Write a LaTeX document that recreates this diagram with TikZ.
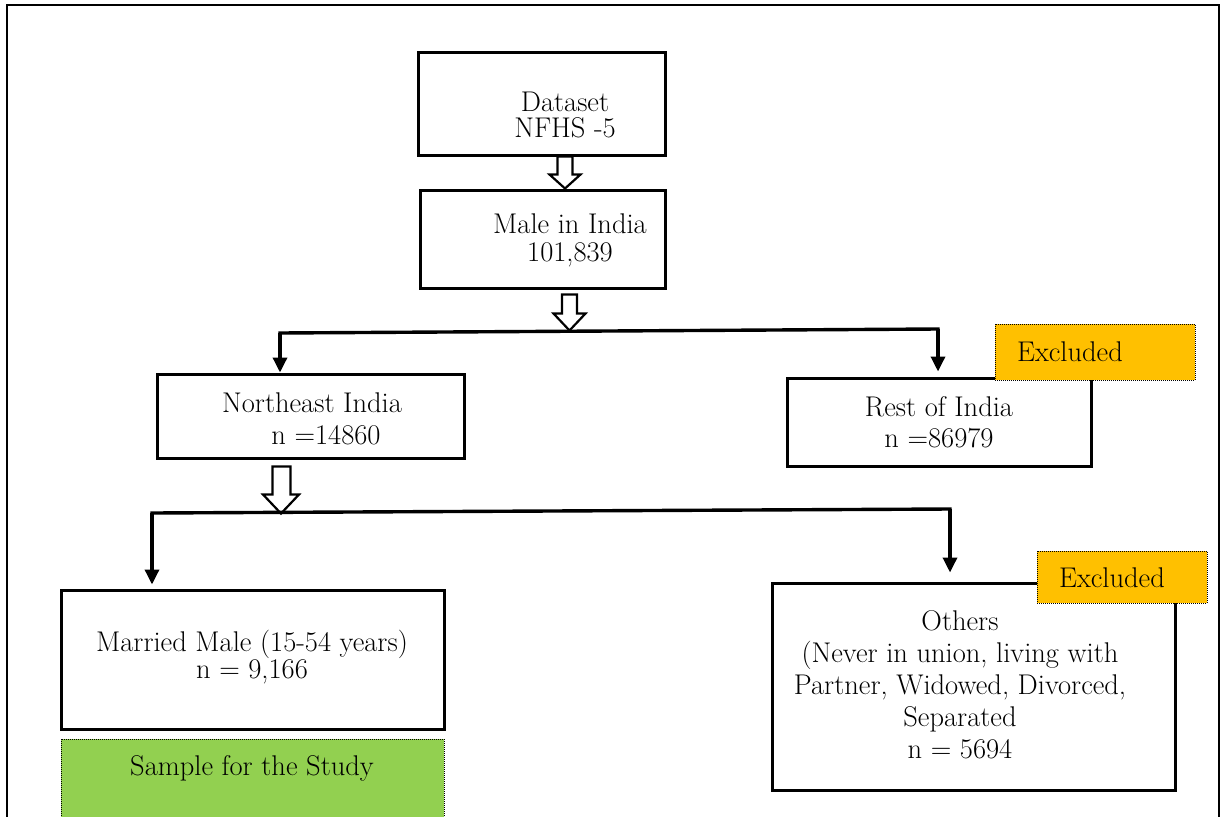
\documentclass[tikz,border=0pt]{standalone}
\usetikzlibrary{arrows.meta,calc}
\definecolor{exclorange}{HTML}{FFC000}
\definecolor{samplegreen}{HTML}{92D050}
\begin{document}
\begin{tikzpicture}[x=1pt,y=-1pt,
  boxnode/.style={draw=black,line width=3pt,fill=white,inner sep=0pt},
  tagbox/.style={draw=black,densely dotted,line width=1pt,inner sep=0pt},
  txt/.style={align=center,inner sep=0pt,font=\fontsize{28.5}{28}\selectfont},
  conn/.style={line width=3.4pt,-{Triangle[length=15pt,width=14pt]}},
  hollow/.style={draw=black,line width=2.2pt,fill=white,line join=miter}]
\useasboundingbox (0,0) rectangle (1222,816);
\clip (0,0) rectangle (1222,816);
\fill[white] (0,0) rectangle (1222,816);
% outer frame
\draw[line width=2.6pt] (7,830) -- (7,5) -- (1219,5) -- (1219,830);

% boxes
\node[boxnode,minimum width=247pt,minimum height=102pt] (dataset) at (541.5,104) {};
\node[boxnode,minimum width=245pt,minimum height=98pt] (male) at (542.5,239) {};
\node[boxnode,minimum width=307pt,minimum height=84pt] (northeast) at (310.5,416) {};
\node[boxnode,minimum width=304pt,minimum height=88pt] (rest) at (939,422) {};
\node[tagbox,fill=exclorange,minimum width=200pt,minimum height=56pt] (excl1) at (1095,352) {};
\node[boxnode,minimum width=383pt,minimum height=139pt] (married) at (252.5,659.5) {};
\node[tagbox,fill=samplegreen,minimum width=383pt,minimum height=92pt] (sample) at (252.5,785) {};
\node[boxnode,minimum width=403pt,minimum height=207pt] (others) at (973.5,686.5) {};
\node[tagbox,fill=exclorange,minimum width=170pt,minimum height=52pt] (excl2) at (1122,577) {};

% texts
\node[txt,font=\fontsize{28.5}{26}\selectfont] (datasettxt) at (565,115) {Dataset\\NFHS -5};
\node[txt] (maletxt) at (570,240) {Male in India\\101,839};
\node[txt] (netxt1) at (312,403) {Northeast India};
\node[txt] (netxt2) at (326,435) {n =14860};
\node[txt,font=\fontsize{28.5}{31}\selectfont] (resttxt) at (939,422) {Rest of India\\n =86979};
\node[txt] (excl1txt) at (1070,352) {Excluded};
\node[txt,font=\fontsize{28.5}{27}\selectfont] (marriedtxt) at (252,657) {Married Male (15-54 years)\\n = 9,166};
\node[txt] (sampletxt) at (252,768) {Sample for the Study};
\node[txt,font=\fontsize{28.5}{32}\selectfont] (otherstxt) at (960,685) {Others\\(Never in union, living with\\Partner, Widowed, Divorced,\\Separated\\n = 5694};
\node[txt] (excl2txt) at (1112,578) {Excluded};

% hollow arrows
\draw[hollow] ($(dataset.south)+(16,0)$) -- ++(0,18) -- ++(-8,0) -- ++(15.5,14) -- ++(15.5,-14) -- ++(-8,0) -- ++(0,-18) -- cycle;
\draw[hollow] ($(male.south)+(19.5,5)$) -- ++(0,19) -- ++(-8.5,0) -- ++(16,17) -- ++(16,-17) -- ++(-8.5,0) -- ++(0,-19) -- cycle;
\draw[hollow] ($(northeast.south)+(-38,7)$) -- ++(0,28) -- ++(-9.5,0) -- ++(18,19) -- ++(18,-19) -- ++(-8.5,0) -- ++(0,-28) -- cycle;

% split connectors
\coordinate (left1) at (280,333);
\coordinate (right1) at (938,329);
\draw[line width=3.4pt,line cap=rect] (left1) -- (right1);
\draw[conn] (left1) -- (left1 |- northeast.north);
\draw[conn] (right1) -- ($(right1 |- rest.north)+(0,-5)$);

\coordinate (left2) at (152,513);
\coordinate (right2) at (950,509);
\draw[line width=3.4pt,line cap=rect] (left2) -- (right2);
\draw[conn] (left2) -- ($(left2 |- married.north)+(0,-4)$);
\draw[conn] (right2) -- ($(right2 |- others.north)+(0,-9)$);
\end{tikzpicture}
\end{document}
